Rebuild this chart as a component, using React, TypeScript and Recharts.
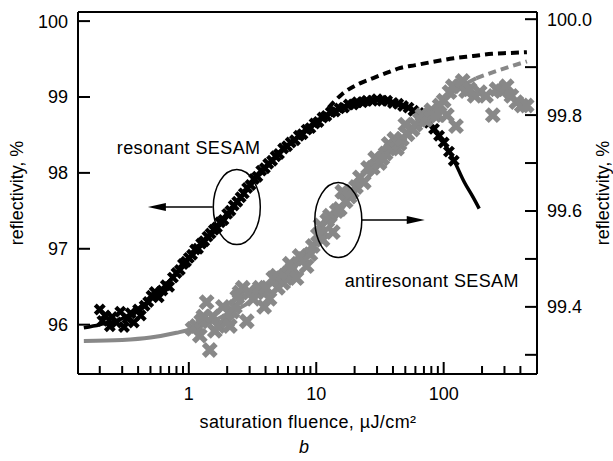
import React from "react";
import {
  ComposedChart,
  Line,
  Scatter,
  XAxis,
  YAxis,
  ReferenceLine,
  ReferenceDot,
  Customized,
} from "recharts";

const FONT = '"Liberation Sans", Arial, Helvetica, sans-serif';
const GRAY = "#888888";

// x ticks (log axis), only decades get a label
const xTicks = [
  0.2, 0.3, 0.4, 0.5, 0.6, 0.7, 0.8, 0.9, 1, 2, 3, 4, 5, 6, 7, 8, 9, 10, 20, 30, 40, 50, 60, 70, 80, 90,
  100, 200, 300, 400,
];
const xLabelled = [1, 10, 100];
const leftTicks = [96, 97, 98, 99, 100];
const rightTicks = [99.3, 99.4, 99.5, 99.6, 99.7, 99.8, 99.9, 100.0];

// resonant SESAM, measured points (left axis)
const resonantPts: [number, number][] = [
  [0.2, 96.2], [0.21, 96.05], [0.22, 96.12], [0.24, 95.98], [0.25, 96.1], [0.27, 96.03], [0.29, 96.17],
  [0.31, 95.97], [0.33, 96.08], [0.35, 96.15], [0.37, 96.03], [0.4, 96.2], [0.42, 96.12], [0.45, 96.25],
  [0.48, 96.3], [0.51, 96.38], [0.54, 96.43], [0.58, 96.36], [0.62, 96.45], [0.66, 96.52], [0.7, 96.5],
  [0.75, 96.62], [0.8, 96.68], [0.85, 96.72], [0.9, 96.8], [0.95, 96.83], [1.0, 96.88], [1.06, 96.92],
  [1.12, 96.99], [1.18, 97.0], [1.25, 97.07], [1.32, 97.1], [1.4, 97.16], [1.48, 97.2], [1.57, 97.25],
  [1.66, 97.28], [1.76, 97.35], [1.87, 97.38], [2.0, 97.46], [2.12, 97.5], [2.25, 97.57], [2.4, 97.62],
  [2.55, 97.68], [2.7, 97.73], [2.87, 97.8], [3.05, 97.84], [3.25, 97.92], [3.45, 97.95], [3.7, 98.03],
  [3.95, 98.06], [4.2, 98.12], [4.5, 98.16], [4.8, 98.22], [5.1, 98.25], [5.5, 98.32], [5.9, 98.35],
  [6.3, 98.4], [6.8, 98.43], [7.3, 98.49], [7.8, 98.51], [8.4, 98.57], [9.0, 98.59], [9.7, 98.65],
  [10.4, 98.67], [11.2, 98.73], [12.0, 98.75], [13.0, 98.8], [14.0, 98.81], [15.2, 98.85], [16.5, 98.86],
  [18.0, 98.9], [19.5, 98.9], [21.0, 98.93], [23.0, 98.93], [25.0, 98.95], [27.5, 98.95], [30.0, 98.97],
  [33.0, 98.95], [36.0, 98.95], [40.0, 98.92], [44.0, 98.91], [48.0, 98.88], [53.0, 98.86], [58.0, 98.82],
  [64.0, 98.79], [70.0, 98.72], [77.0, 98.66], [84.0, 98.58], [92.0, 98.49], [100.0, 98.4], [110.0, 98.28],
  [120.0, 98.16],
];

// resonant SESAM fit (solid) and fit without induced absorption (dashed)
const resonantFit: [number, number][] = [
  [0.15, 95.96], [0.2, 96.0], [0.3, 96.08], [0.45, 96.27], [0.6, 96.45], [0.8, 96.68], [1, 96.86],
  [1.4, 97.13], [2, 97.42], [3, 97.84], [4.5, 98.15], [6.5, 98.42], [9, 98.63], [12, 98.77], [16, 98.87],
  [22, 98.93], [30, 98.96], [40, 98.93], [52, 98.86], [65, 98.76], [80, 98.6], [100, 98.4], [120, 98.17],
  [145, 97.88], [170, 97.68], [190, 97.53],
];
const resonantSat: [number, number][] = [
  [12.5, 98.86], [16, 99.04], [22, 99.18], [28, 99.25], [36, 99.32], [45, 99.38], [60, 99.42], [80, 99.46],
  [120, 99.51], [170, 99.54], [240, 99.57], [330, 99.58], [450, 99.59],
];

// antiresonant SESAM, measured points (right axis)
const antiPts: [number, number][] = [
  [1.07, 99.354], [1.15, 99.36], [1.22, 99.34], [1.25, 99.37], [1.3, 99.38], [1.38, 99.41], [1.46, 99.31],
  [1.54, 99.38], [1.6, 99.35], [1.7, 99.36], [1.85, 99.4], [2.0, 99.37], [2.1, 99.36], [2.2, 99.39],
  [2.3, 99.4], [2.4, 99.42], [2.5, 99.43], [2.65, 99.44], [2.85, 99.37], [3.0, 99.43], [3.2, 99.417],
  [3.4, 99.43], [3.6, 99.44], [3.9, 99.4], [4.0, 99.44], [4.3, 99.417], [4.6, 99.46], [4.9, 99.465],
  [5.0, 99.44], [5.5, 99.45], [5.8, 99.46], [6.0, 99.47], [6.2, 99.49], [6.5, 99.48], [7.0, 99.46],
  [7.4, 99.506], [8.0, 99.5], [8.4, 99.485], [9.0, 99.51], [9.4, 99.527], [10.3, 99.55], [10.8, 99.57],
  [11.2, 99.54], [12.2, 99.58], [12.8, 99.59], [13.5, 99.556], [14.5, 99.6], [15.3, 99.604], [16.0, 99.64],
  [17.0, 99.62], [18.3, 99.63], [19.0, 99.64], [20.5, 99.65], [22.0, 99.67], [23.6, 99.66], [25.5, 99.69],
  [27.8, 99.69], [29.0, 99.71], [31.4, 99.7], [33.0, 99.71], [35.0, 99.72], [37.0, 99.74], [39.0, 99.73],
  [41.0, 99.75], [43.0, 99.73], [45.0, 99.74], [47.0, 99.75], [50.0, 99.78], [52.0, 99.76], [57.0, 99.77],
  [60.0, 99.78], [65.0, 99.79], [68.0, 99.8], [72.0, 99.79], [77.0, 99.8], [80.0, 99.81], [85.0, 99.8],
  [90.0, 99.8], [93.0, 99.82], [100.0, 99.83], [106.0, 99.8], [111.0, 99.848], [118.0, 99.86],
  [125.0, 99.777], [133.0, 99.86], [141.0, 99.871], [150.0, 99.85], [160.0, 99.854], [175.0, 99.84],
  [192.0, 99.848], [215.0, 99.84], [243.0, 99.8], [260.0, 99.854], [285.0, 99.85], [312.0, 99.86],
  [340.0, 99.84], [372.0, 99.827], [410.0, 99.82], [448.0, 99.82],
];
const antiFit: [number, number][] = [
  [0.15, 99.329], [0.3, 99.331], [0.5, 99.336], [0.8, 99.346], [1.2, 99.358], [2, 99.385], [3, 99.41],
  [5, 99.46], [8, 99.51], [12, 99.56], [20, 99.64], [30, 99.69], [50, 99.76], [80, 99.81], [120, 99.85],
  [180, 99.877],
];
const antiSat: [number, number][] = [
  [180, 99.877], [260, 99.892], [340, 99.902], [450, 99.912],
];

const toRows = (pts: [number, number][]) => pts.map(([x, y]) => ({ x, y }));

const cross = (half: number, width: number, color: string) => (props: any) => {
  const { cx, cy } = props;
  if (cx == null || cy == null) return <g />;
  return (
    <path
      d={`M${cx - half},${cy - half}L${cx + half},${cy + half}M${cx - half},${cy + half}L${cx + half},${cy - half}`}
      stroke={color}
      strokeWidth={width}
      fill="none"
    />
  );
};

const XTick = (props: any) => {
  const { x, y, payload } = props;
  const major = xLabelled.includes(payload.value);
  return (
    <g>
      <line x1={x} x2={x} y1={y} y2={y - (major ? 12 : 8)} stroke="#000" strokeWidth={2} />
      {major && (
        <text x={x} y={y + 26} textAnchor="middle" fontSize={18} fontFamily={FONT} fill="#000">
          {payload.value}
        </text>
      )}
    </g>
  );
};

const LeftTick = (props: any) => {
  const { x, y, payload } = props;
  return (
    <g>
      <line x1={x} x2={x + 12} y1={y} y2={y} stroke="#000" strokeWidth={2} />
      <text x={x - 10} y={y} dy="0.36em" textAnchor="end" fontSize={18} fontFamily={FONT} fill="#000">
        {payload.value}
      </text>
    </g>
  );
};

const RightTick = (props: any) => {
  const { x, y, payload } = props;
  const v = payload.value as number;
  const labelled = Math.round(v * 10) % 2 === 0;
  return (
    <g>
      <line x1={x - 12} x2={x} y1={y} y2={y} stroke="#000" strokeWidth={2} />
      {labelled && (
        <text x={x + 10} y={y} dy="0.36em" textAnchor="start" fontSize={18} fontFamily={FONT} fill="#000">
          {v.toFixed(1)}
        </text>
      )}
    </g>
  );
};

const Titles = () => (
  <g fontFamily={FONT} fontSize={18} fill="#000">
    <text transform="translate(17,193) rotate(-90)" textAnchor="middle" dominantBaseline="central">
      reflectivity, %
    </text>
    <text transform="translate(603,193) rotate(-90)" textAnchor="middle" dominantBaseline="central">
      reflectivity, %
    </text>
    <text x={308} y={422} textAnchor="middle" dominantBaseline="central" letterSpacing={0.4}>
      saturation fluence, µJ/cm²
    </text>
    <text x={304} y={447} textAnchor="middle" dominantBaseline="central" fontStyle="italic">
      b
    </text>
  </g>
);

const ellipseShape = (props: any) => (
  <ellipse cx={props.cx} cy={props.cy} rx={23.5} ry={37.5} fill="none" stroke="#000" strokeWidth={1.5} />
);
const headLeft = (props: any) => (
  <path d={`M${props.cx},${props.cy}l18,-4l0,8z`} fill="#000" />
);
const headRight = (props: any) => (
  <path d={`M${props.cx},${props.cy}l-18,-4l0,8z`} fill="#000" />
);
const labelShape = (text: string) => (props: any) => (
  <text
    x={props.cx}
    y={props.cy}
    dy="0.36em"
    fontFamily={FONT}
    fontSize={18}
    letterSpacing={0.4}
    fill="#000"
  >
    {text}
  </text>
);

export default function App() {
  return (
    <div style={{ width: 613, height: 461, background: "#fff" }}>
      <style>{"body{margin:0;background:#fff}"}</style>
      <ComposedChart width={613} height={461} margin={{ top: 12, right: 0, bottom: 0, left: 0 }}>
        <XAxis
          dataKey="x"
          type="number"
          scale="log"
          domain={[0.135, 540]}
          allowDataOverflow
          ticks={xTicks}
          interval={0}
          height={87}
          tickSize={0}
          tickMargin={0}
          tickLine={false}
          tick={<XTick />}
          axisLine={{ stroke: "#000", strokeWidth: 2 }}
        />
        <YAxis
          yAxisId="left"
          type="number"
          domain={[95.35, 100.12]}
          allowDataOverflow
          ticks={leftTicks}
          interval={0}
          width={78}
          tickSize={0}
          tickMargin={0}
          tickLine={false}
          tick={<LeftTick />}
          axisLine={{ stroke: "#000", strokeWidth: 2 }}
        />
        <YAxis
          yAxisId="right"
          orientation="right"
          type="number"
          domain={[99.26, 100.015]}
          allowDataOverflow
          ticks={rightTicks}
          interval={0}
          width={76}
          tickSize={0}
          tickMargin={0}
          tickLine={false}
          tick={<RightTick />}
          axisLine={{ stroke: "#000", strokeWidth: 2 }}
        />
        <ReferenceLine yAxisId="left" y={100.12} stroke="#000" strokeWidth={2} />

        <Line
          yAxisId="left"
          data={toRows(resonantFit)}
          dataKey="y"
          type="monotone"
          stroke="#000"
          strokeWidth={3.5}
          dot={false}
          activeDot={false}
          isAnimationActive={false}
        />
        <Line
          yAxisId="left"
          data={toRows(resonantSat)}
          dataKey="y"
          type="monotone"
          stroke="#000"
          strokeWidth={4}
          strokeDasharray="8 5"
          dot={false}
          activeDot={false}
          isAnimationActive={false}
        />
        <Scatter
          yAxisId="left"
          data={toRows(resonantPts)}
          dataKey="y"
          fill="#000"
          shape={cross(4.5, 4.2, "#000")}
          isAnimationActive={false}
        />
        <Line
          yAxisId="right"
          data={toRows(antiFit)}
          dataKey="y"
          type="monotone"
          stroke={GRAY}
          strokeWidth={4}
          dot={false}
          activeDot={false}
          isAnimationActive={false}
        />
        <Line
          yAxisId="right"
          data={toRows(antiSat)}
          dataKey="y"
          type="monotone"
          stroke={GRAY}
          strokeWidth={4}
          strokeDasharray="8 5"
          dot={false}
          activeDot={false}
          isAnimationActive={false}
        />
        <Scatter
          yAxisId="right"
          data={toRows(antiPts)}
          dataKey="y"
          fill={GRAY}
          shape={cross(6, 5.5, GRAY)}
          isAnimationActive={false}
        />

        {/* annotations */}
        <ReferenceDot yAxisId="left" x={2.38} y={97.55} shape={ellipseShape} />
        <ReferenceLine
          yAxisId="left"
          segment={[{ x: 1.54, y: 97.55 }, { x: 0.6, y: 97.55 }]}
          stroke="#000"
          strokeWidth={1.5}
        />
        <ReferenceDot yAxisId="left" x={0.477} y={97.55} shape={headLeft} />
        <ReferenceDot yAxisId="left" x={0.272} y={98.34} shape={labelShape("resonant SESAM")} />

        <ReferenceDot yAxisId="right" x={14.9} y={99.581} shape={ellipseShape} />
        <ReferenceLine
          yAxisId="right"
          segment={[{ x: 22.7, y: 99.581 }, { x: 56, y: 99.581 }]}
          stroke="#000"
          strokeWidth={1.5}
        />
        <ReferenceDot yAxisId="right" x={71} y={99.581} shape={headRight} />
        <ReferenceDot yAxisId="right" x={16.7} y={99.454} shape={labelShape("antiresonant SESAM")} />

        <Customized component={<Titles />} />
      </ComposedChart>
    </div>
  );
}
